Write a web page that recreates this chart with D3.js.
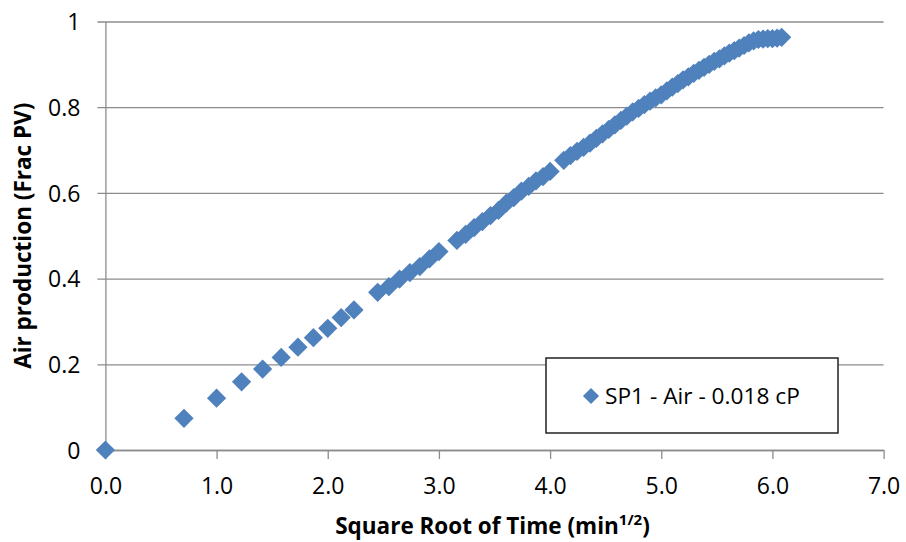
<!DOCTYPE html>
<html>
<head>
<meta charset="utf-8">
<script src="https://cdn.jsdelivr.net/npm/d3@7"></script>
<style>
  html, body { margin: 0; padding: 0; background: #ffffff; }
  svg { display: block; }
  text { font-family: "Open Sans", "Liberation Sans", sans-serif; fill: #000; }
</style>
</head>
<body>
<svg id="chart" width="906" height="542"></svg>
<script>
// Square root of elapsed time (min^1/2)
const sqrtTime = [
  0, 0.707, 1.000, 1.225, 1.414, 1.581, 1.732, 1.871, 2.000, 2.121, 2.236,
  2.449, 2.550, 2.646, 2.739, 2.828, 2.915, 3.000,
  3.162, 3.240, 3.317, 3.391, 3.464, 3.536, 3.606, 3.674, 3.742, 3.808, 3.873, 3.937, 4.000,
  4.123, 4.183, 4.243, 4.301, 4.359, 4.416, 4.472, 4.528, 4.583, 4.637, 4.690, 4.743,
  4.796, 4.848, 4.899, 4.950, 5.000, 5.050, 5.099, 5.148, 5.196, 5.244, 5.292, 5.339,
  5.385, 5.431, 5.477, 5.523, 5.568, 5.612, 5.657, 5.701, 5.745, 5.788, 5.831, 5.874,
  5.916, 5.958, 6.000, 6.042, 6.083
];

// Cumulative air production (fraction of pore volume)
const airProduction = [
  0, 0.074, 0.121, 0.159, 0.189, 0.216, 0.240, 0.262, 0.284, 0.309, 0.327,
  0.368, 0.381, 0.399, 0.414, 0.428, 0.446, 0.463,
  0.489, 0.503, 0.519, 0.533, 0.547, 0.559, 0.576, 0.589, 0.604, 0.615, 0.628, 0.638, 0.650,
  0.676, 0.687, 0.697, 0.706, 0.716, 0.727, 0.738, 0.748, 0.759, 0.769, 0.779, 0.789,
  0.797, 0.806, 0.814, 0.822, 0.829, 0.838, 0.847, 0.855, 0.864, 0.871, 0.879, 0.886,
  0.893, 0.900, 0.907, 0.913, 0.920, 0.926, 0.932, 0.938, 0.944, 0.950, 0.955, 0.958,
  0.959, 0.960, 0.960, 0.961, 0.963
];

const seriesName = "SP1 - Air - 0.018 cP";
const xTicks = [0, 1, 2, 3, 4, 5, 6, 7];
const xTickLabels = ["0.0", "1.0", "2.0", "3.0", "4.0", "5.0", "6.0", "7.0"];
const yTicks = [0, 0.2, 0.4, 0.6, 0.8, 1];
const yTickLabels = ["0", "0.2", "0.4", "0.6", "0.8", "1"];

const points = sqrtTime.map((x, i) => ({ x: x, y: airProduction[i] }));

const svg = d3.select("#chart");
const plot = { left: 105.4, right: 883.6, top: 21.5, bottom: 450 };

const x = d3.scaleLinear().domain([0, 7]).range([plot.left, plot.right]);
const y = d3.scaleLinear().domain([0, 1]).range([plot.bottom, plot.top]);

const gridColor = "#8c8c8c";
const markColor = "#4f81bd";
const tickFont = "23px";

// Horizontal gridlines with short outward ticks, and y tick labels
const yAxis = d3.axisLeft(y)
  .tickValues(yTicks)
  .tickSize(-(plot.right - plot.left))
  .tickSizeOuter(0)
  .tickPadding(0)
  .tickFormat((d, i) => yTickLabels[i]);

const gy = svg.append("g")
  .attr("transform", `translate(${plot.left},0)`)
  .call(yAxis);
gy.select(".domain").attr("stroke", gridColor).attr("stroke-width", 1.3);
gy.selectAll(".tick line")
  .attr("x1", -8)
  .attr("stroke", gridColor)
  .attr("stroke-width", 1.3);
gy.selectAll(".tick text")
  .attr("x", -25)
  .attr("dy", "0.36em")
  .style("font-size", tickFont)
  .style("font-family", "'Open Sans', sans-serif")
  .attr("fill", "#000");

// Bottom axis
const xAxis = d3.axisBottom(x)
  .tickValues(xTicks)
  .tickSize(9)
  .tickSizeOuter(0)
  .tickFormat((d, i) => xTickLabels[i]);

const gx = svg.append("g")
  .attr("transform", `translate(0,${plot.bottom})`)
  .call(xAxis);
gx.select(".domain").attr("stroke", gridColor).attr("stroke-width", 1.3);
gx.selectAll(".tick line").attr("stroke", gridColor).attr("stroke-width", 1.3);
gx.selectAll(".tick text")
  .attr("y", 44)
  .attr("dy", 0)
  .style("font-size", tickFont)
  .style("font-family", "'Open Sans', sans-serif")
  .attr("fill", "#000");

// Diamond markers
const diamond = d3.symbol().type(d3.symbolSquare).size(185)();

svg.append("g")
  .selectAll("path")
  .data(points)
  .join("path")
  .attr("d", diamond)
  .attr("transform", d => `translate(${x(d.x)},${y(d.y)}) rotate(45)`)
  .attr("fill", markColor);

// Axis titles
svg.append("text")
  .attr("transform", `translate(23,${(plot.top + plot.bottom) / 2}) rotate(-90)`)
  .attr("text-anchor", "middle")
  .attr("dy", "0.35em")
  .style("font-size", "22.5px")
  .style("font-weight", "bold")
  .text("Air production (Frac PV)");

const xt = svg.append("text")
  .attr("x", (plot.left + plot.right) / 2 - 2)
  .attr("y", 534)
  .attr("text-anchor", "middle")
  .style("font-size", "22.5px")
  .style("font-weight", "bold");
xt.append("tspan").text("Square Root of Time (min");
xt.append("tspan").attr("dy", -9).style("font-size", "15px").text("1/2");
xt.append("tspan").attr("dy", 9).text(")");

// Legend
const legend = svg.append("g").attr("transform", "translate(546,358)");
legend.append("rect")
  .attr("width", 292)
  .attr("height", 75)
  .attr("fill", "#fff")
  .attr("stroke", "#222")
  .attr("stroke-width", 1.5);
legend.append("path")
  .attr("d", d3.symbol().type(d3.symbolSquare).size(130)())
  .attr("transform", "translate(45,38) rotate(45)")
  .attr("fill", markColor);
legend.append("text")
  .attr("x", 59)
  .attr("y", 38)
  .attr("dy", "0.35em")
  .style("font-size", "22.7px")
  .text(seriesName);
</script>
</body>
</html>
